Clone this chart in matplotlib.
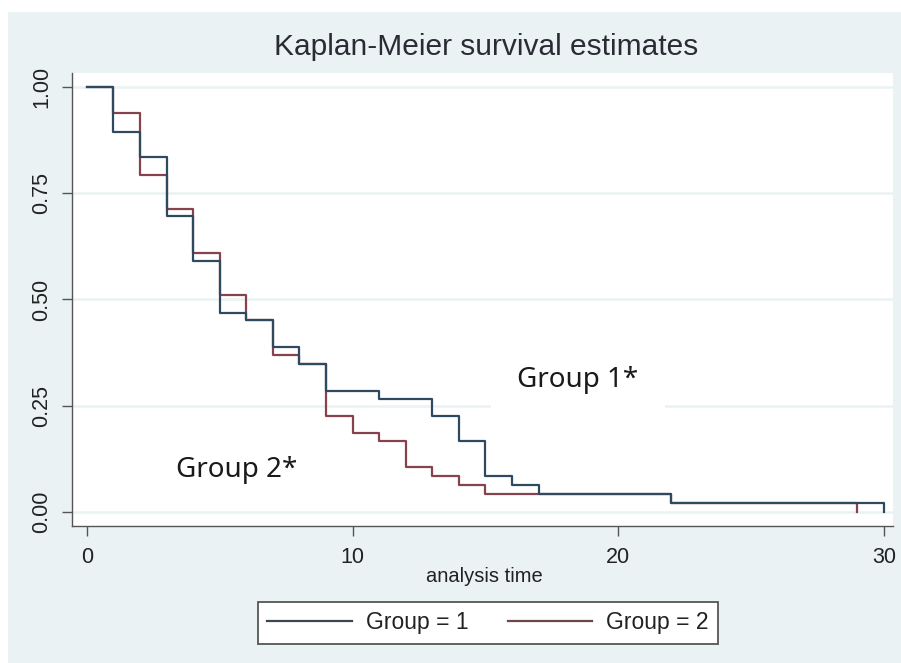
import matplotlib
matplotlib.use("Agg")
import matplotlib.pyplot as plt
from matplotlib.patches import Rectangle

# ---- data ----
times1 = [0, 1, 2, 3, 4, 5, 6, 7, 8, 9, 11, 13, 14, 15, 16, 17, 22, 30]
surv1 = [1.0, 0.895, 0.836, 0.696, 0.591, 0.469, 0.452, 0.389, 0.348, 0.285,
         0.267, 0.226, 0.167, 0.085, 0.063, 0.042, 0.021, 0.0]
times2 = [0, 1, 2, 3, 4, 5, 6, 7, 8, 9, 10, 11, 12, 13, 14, 15, 22, 29]
surv2 = [1.0, 0.94, 0.793, 0.714, 0.610, 0.511, 0.452, 0.369, 0.348, 0.227,
         0.185, 0.166, 0.105, 0.085, 0.063, 0.042, 0.021, 0.0]
xticks = [0, 10, 20, 30]
yticks = [0.0, 0.25, 0.50, 0.75, 1.00]
ytick_labels = ["0.00", "0.25", "0.50", "0.75", "1.00"]
labels = ["Group = 1", "Group = 2"]
title = "Kaplan-Meier survival estimates"
xlabel = "analysis time"
annot1 = "Group 1*"
annot2 = "Group 2*"

W, H = 901, 663
BG = "#eaf2f3"
C1 = "#2f4a60"
C2 = "#86434d"
SANS = ["Liberation Sans", "DejaVu Sans"]

fig = plt.figure(figsize=(W / 100, H / 100), dpi=100, facecolor="white")
fig.patches.append(Rectangle((8 / W, 0), 1 - 8 / W, 1 - 12 / H, transform=fig.transFigure,
                             facecolor=BG, edgecolor="none", zorder=-10))

ax = fig.add_axes([72 / W, 1 - 526 / H, (893 - 72) / W, (526 - 73) / H])
ax.set_facecolor("white")
ax.set_xlim(-0.557, 30.34)
ax.set_ylim(-0.033, 1.033)

for v in yticks:
    ax.axhline(v, color=BG, lw=1.8, zorder=1)

ax.step(times2, surv2, where="post", color=C2, lw=1.6, zorder=3, label=labels[1])
ax.step(times1, surv1, where="post", color=C1, lw=1.6, zorder=4, label=labels[0])

for s in ["top", "right"]:
    ax.spines[s].set_visible(False)
for s in ["left", "bottom"]:
    ax.spines[s].set_color("#555555")
    ax.spines[s].set_linewidth(1.0)

ax.set_xticks(xticks)
ax.set_xticklabels([str(t) for t in xticks], family=SANS, fontsize=15.5, color="#222222")
ax.set_yticks(yticks)
ax.set_yticklabels(ytick_labels, family=SANS, fontsize=15.5, color="#222222",
                   rotation=90, va="center")
ax.tick_params(axis="x", length=7, width=1, color="#555555", pad=8)
ax.tick_params(axis="y", length=7, width=1, color="#555555", pad=7)

ax.text((578 - 86.8) / 26.57, (512 - 380) / 425, annot1,
        family=["Noto Sans", "DejaVu Sans"], fontsize=20, color="#1a1a1a",
        ha="center", va="center", zorder=5,
        bbox=dict(boxstyle="square,pad=0.95", facecolor="white", edgecolor="none"))
ax.text((237 - 86.8) / 26.57, (512 - 470) / 425, annot2,
        family=["Noto Sans", "DejaVu Sans"], fontsize=20, color="#1a1a1a",
        ha="center", va="center", zorder=5,
        bbox=dict(boxstyle="square,pad=0.6", facecolor="white", edgecolor="none"))

fig.text(486.5 / W, 1 - 47 / H, title, family=SANS, fontsize=21.5, color="#2b2b35",
         ha="center", va="center")
fig.text(484 / W, 1 - 577 / H, xlabel, family=SANS, fontsize=14.5, color="#222222",
         ha="center", va="center")

h1, = ax.plot([], [], color="#3b4650", lw=1.6)
h2, = ax.plot([], [], color="#6e4548", lw=1.6)
leg = fig.legend([h1, h2], labels, loc="center", bbox_to_anchor=(488 / W, 1 - 623 / H),
                 ncol=2, frameon=True, fancybox=False, framealpha=1,
                 prop={"family": SANS, "size": 16.5}, handlelength=3.7,
                 handletextpad=0.6, columnspacing=1.7, borderpad=0.4,
                 edgecolor="#555555")
leg.get_frame().set_linewidth(1.3)
for t in leg.get_texts():
    t.set_color("#222222")

fig.savefig("out.png", dpi=100, facecolor=fig.get_facecolor())
